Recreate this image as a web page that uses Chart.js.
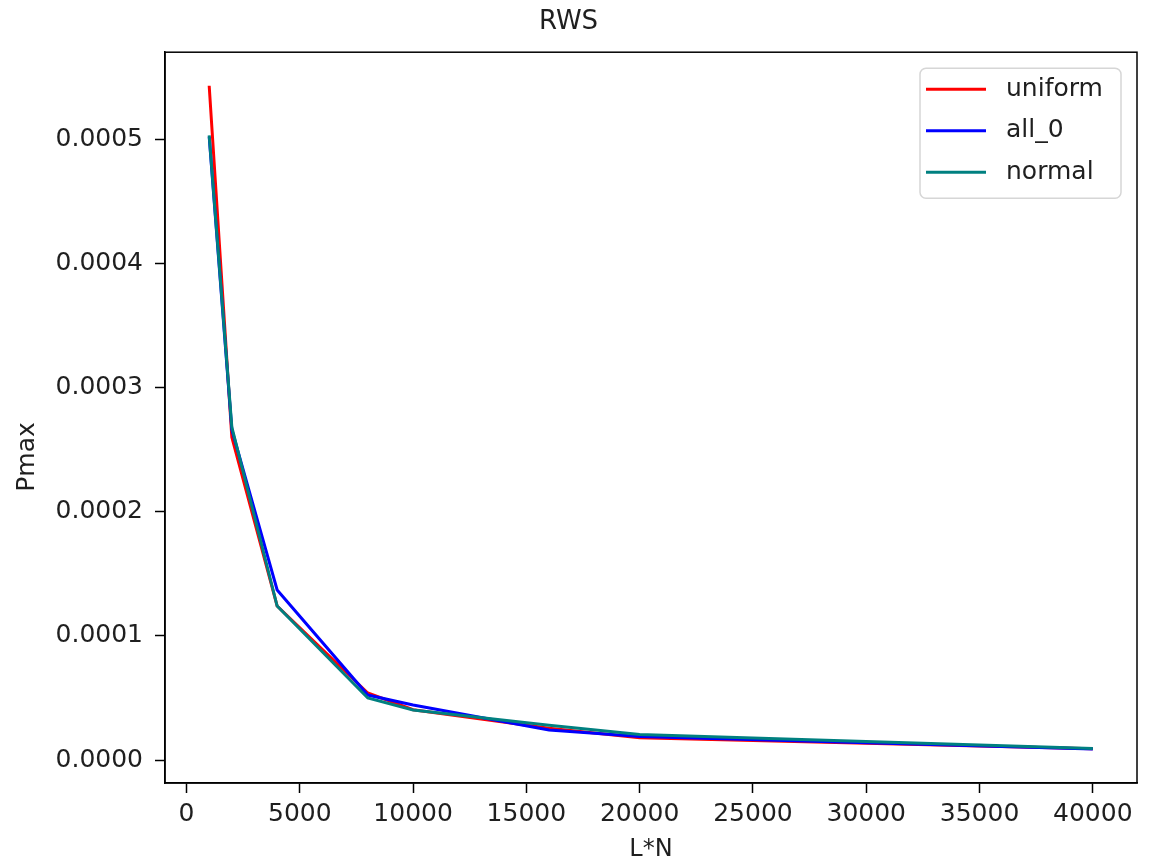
<!DOCTYPE html>
<html>
<head>
<meta charset="utf-8">
<title>RWS</title>
<script src="https://cdn.jsdelivr.net/npm/chart.js@4"></script>
<style>
  html, body { margin: 0; padding: 0; background: #fff; }
  #wrap { width: 1153px; height: 862px; }
</style>
</head>
<body>
<div id="wrap"><canvas id="rwsChart" width="1153" height="862"></canvas></div>
<script>
// values
const lengths = [1000, 2000, 4000, 8000, 10000, 16000, 20000, 40000];
const uniform = [0.000543, 0.000260, 0.000124, 0.0000540, 0.0000405, 0.0000255, 0.0000180, 0.0000090];
const all0    = [0.000502, 0.000266, 0.000137, 0.0000523, 0.0000443, 0.0000242, 0.0000190, 0.0000089];
const normal  = [0.000503, 0.000268, 0.000124, 0.0000500, 0.0000403, 0.0000280, 0.0000205, 0.0000093];
const xTicks = [0, 5000, 10000, 15000, 20000, 25000, 30000, 35000, 40000];
const yTicks = [0, 0.0001, 0.0002, 0.0003, 0.0004, 0.0005];

const FONT = 'DejaVu Sans';
const TEXT = '#1f1f1f';

function pts(ys) {
  return lengths.map((x, i) => ({ x: x, y: ys[i] }));
}

// box round the plot area, like matplotlib's spines
const frame = {
  id: 'frame',
  afterDatasetsDraw(chart) {
    const { ctx, chartArea: a } = chart;
    ctx.save();
    ctx.strokeStyle = '#000';
    ctx.lineWidth = 1.5;
    ctx.strokeRect(a.left, a.top, a.right - a.left, a.bottom - a.top);
    ctx.restore();
  }
};

// y axis label sits a bit below the middle in the reference
const yLabel = {
  id: 'yLabel',
  afterDraw(chart) {
    const { ctx } = chart;
    ctx.save();
    ctx.translate(27, 457);
    ctx.rotate(-Math.PI / 2);
    ctx.font = '25px "' + FONT + '"';
    ctx.fillStyle = TEXT;
    ctx.textAlign = 'center';
    ctx.textBaseline = 'middle';
    ctx.fillText('Pmax', 0, 0);
    ctx.restore();
  }
};

// legend box in the upper right corner of the plot
const insideLegend = {
  id: 'insideLegend',
  afterDraw(chart) {
    const { ctx, chartArea: a } = chart;
    const w = 201, h = 130;
    const x0 = a.right - 16 - w, y0 = a.top + 16;
    ctx.save();
    ctx.fillStyle = 'rgba(255,255,255,0.8)';
    ctx.strokeStyle = '#d6d6d6';
    ctx.lineWidth = 1.5;
    ctx.beginPath();
    ctx.roundRect(x0, y0, w, h, 6);
    ctx.fill();
    ctx.stroke();
    ctx.font = '25px "' + FONT + '"';
    ctx.textBaseline = 'middle';
    ctx.fillStyle = TEXT;
    chart.data.datasets.forEach((ds, i) => {
      const y = y0 + 21 + i * 41.5;
      ctx.strokeStyle = ds.borderColor;
      ctx.lineWidth = 3;
      ctx.beginPath();
      ctx.moveTo(x0 + 6, y);
      ctx.lineTo(x0 + 66, y);
      ctx.stroke();
      ctx.fillText(ds.label, x0 + 86, y);
    });
    ctx.restore();
  }
};

new Chart(document.getElementById('rwsChart').getContext('2d'), {
  type: 'line',
  data: {
    datasets: [
      { label: 'uniform', data: pts(uniform), borderColor: '#ff0000', order: 2 },
      { label: 'all_0', data: pts(all0), borderColor: '#0000ff', order: 1 },
      { label: 'normal', data: pts(normal), borderColor: '#008080', order: 0 }
    ]
  },
  options: {
    responsive: false,
    animation: false,
    layout: { padding: { left: 0, right: 16, top: 0, bottom: 0 } },
    elements: {
      line: { borderWidth: 3, tension: 0, fill: false },
      point: { radius: 0 }
    },
    plugins: {
      legend: { display: false },
      tooltip: { enabled: false },
      title: {
        display: true,
        text: 'RWS',
        color: TEXT,
        font: { family: FONT, size: 26, weight: 'normal', lineHeight: 1.2 },
        padding: { top: 7, bottom: 14 }
      }
    },
    scales: {
      x: {
        type: 'linear',
        min: -950,
        max: 41950,
        afterBuildTicks(s) { s.ticks = xTicks.map(v => ({ value: v })); },
        afterFit(s) { s.height = 79; },
        grid: { drawOnChartArea: false, drawTicks: true, tickLength: 10, tickColor: '#000', tickWidth: 1.5 },
        border: { display: true, color: '#000', width: 1.5 },
        ticks: {
          color: TEXT,
          padding: 6,
          maxRotation: 0,
          autoSkip: false,
          font: { family: FONT, size: 25 },
          callback: v => String(v)
        },
        title: {
          display: true,
          text: 'L*N',
          color: TEXT,
          font: { family: FONT, size: 24, lineHeight: 1.0 },
          padding: { top: 0, bottom: 0 }
        }
      },
      y: {
        type: 'linear',
        min: -0.0000185,
        max: 0.00057,
        afterBuildTicks(s) { s.ticks = yTicks.map(v => ({ value: v })); },
        afterFit(s) { s.width = 165; },
        grid: { drawOnChartArea: false, drawTicks: true, tickLength: 10, tickColor: '#000', tickWidth: 1.5 },
        border: { display: true, color: '#000', width: 1.5 },
        ticks: {
          color: TEXT,
          padding: 12,
          autoSkip: false,
          font: { family: FONT, size: 25 },
          callback: v => Number(v).toFixed(4)
        },
        title: { display: false }
      }
    }
  },
  plugins: [frame, yLabel, insideLegend]
});
</script>
</body>
</html>
